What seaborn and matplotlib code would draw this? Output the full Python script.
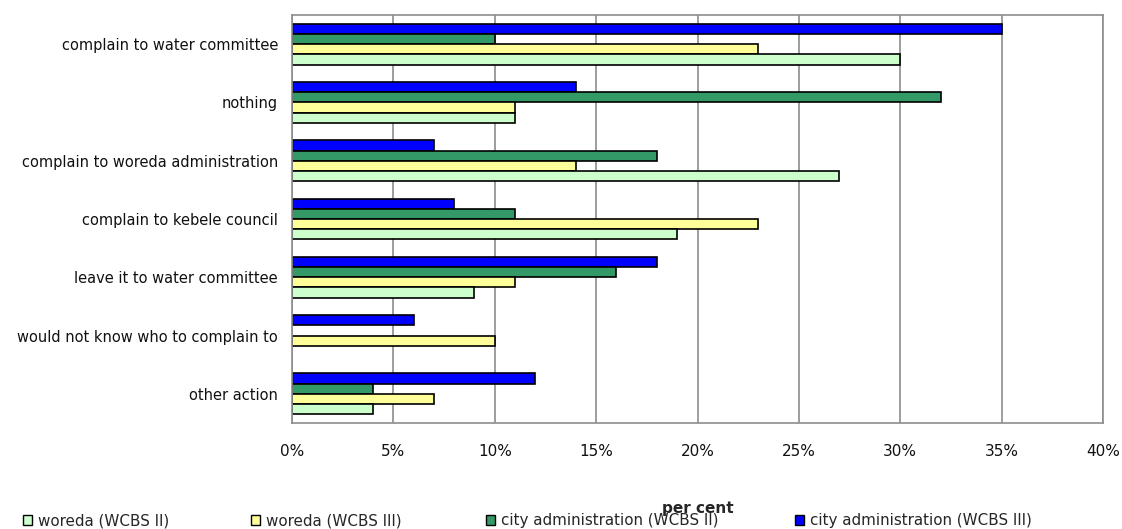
import numpy as np
import pandas as pd
import matplotlib
matplotlib.use("Agg")
import matplotlib.pyplot as plt
import seaborn as sns
from matplotlib.patches import Patch
from matplotlib.ticker import FuncFormatter, MultipleLocator

categories = [
    "complain to water committee",
    "nothing",
    "complain to woreda administration",
    "complain to kebele council",
    "leave it to water committee",
    "would not know who to complain to",
    "other action",
]
series_names = [
    "woreda (WCBS II)",
    "woreda (WCBS III)",
    "city administration (WCBS II)",
    "city administration (WCBS III)",
]
woreda_ii = [30, 11, 27, 19, 9, np.nan, 4]
woreda_iii = [23, 11, 14, 23, 11, 10, 7]
city_ii = [10, 32, 18, 11, 16, np.nan, 4]
city_iii = [35, 14, 7, 8, 18, 6, 12]
colors = {
    "woreda (WCBS II)": "#CCFFCC",
    "woreda (WCBS III)": "#FFFF99",
    "city administration (WCBS II)": "#339966",
    "city administration (WCBS III)": "#0000FF",
}

rows = []
for name, vals in zip(series_names, [woreda_ii, woreda_iii, city_ii, city_iii]):
    for c, v in zip(categories, vals):
        rows.append({"category": c, "series": name, "value": v})
df = pd.DataFrame(rows)

sns.set_style("white")
plt.rcParams["font.family"] = ["DejaVu Sans"]

fig = plt.figure(figsize=(11.22, 5.29), dpi=100)
ax = fig.add_axes([292 / 1122, 1 - 423 / 529, (1103 - 292) / 1122, (423 - 15) / 529])

hue_order = series_names[::-1]
sns.barplot(data=df, y="category", x="value", hue="series", order=categories,
            hue_order=hue_order, palette=colors, orient="h", width=0.70,
            saturation=1, edgecolor="black", linewidth=1.2, ax=ax,
            legend=False, errorbar=None)

ax.set_xlim(0, 40)
ax.set_ylim(len(categories) - 0.5, -0.5)
ax.xaxis.set_major_locator(MultipleLocator(5))
ax.xaxis.set_major_formatter(FuncFormatter(lambda v, p: f"{int(v)}%"))
ax.grid(axis="x", color="#8c8c8c", linewidth=1.2)
ax.set_axisbelow(True)
for s in ax.spines.values():
    s.set_color("#8c8c8c")
    s.set_linewidth(1.2)
ax.set_yticks(np.arange(len(categories)))
ax.set_yticklabels(categories, fontsize=10.5, color="#111111")
ax.tick_params(axis="y", length=0, pad=10)
ax.set_yticks(np.arange(-0.5, len(categories), 1), minor=True)
ax.tick_params(axis="y", which="minor", length=5, color="#8c8c8c", width=1.2)
ax.tick_params(axis="x", length=5, color="#8c8c8c", width=1.2, labelsize=11,
               labelcolor="#111111", pad=10, direction="out")
ax.set_ylabel("")
ax.set_xlabel("per cent", fontsize=11, fontweight="bold", labelpad=30)

handles = [Patch(facecolor=colors[n], edgecolor="black", linewidth=1.0, label=n)
           for n in series_names]
xs = [23, 251, 486, 795]
for h, x in zip(handles, xs):
    fig.legend(handles=[h], loc="center left", bbox_to_anchor=(x / 1122, 1 - 521 / 529),
               frameon=False, fontsize=10.9, handlelength=0.6, handleheight=0.6,
               handletextpad=0.4, borderpad=0, borderaxespad=0)

fig.savefig("out.png", dpi=100)
